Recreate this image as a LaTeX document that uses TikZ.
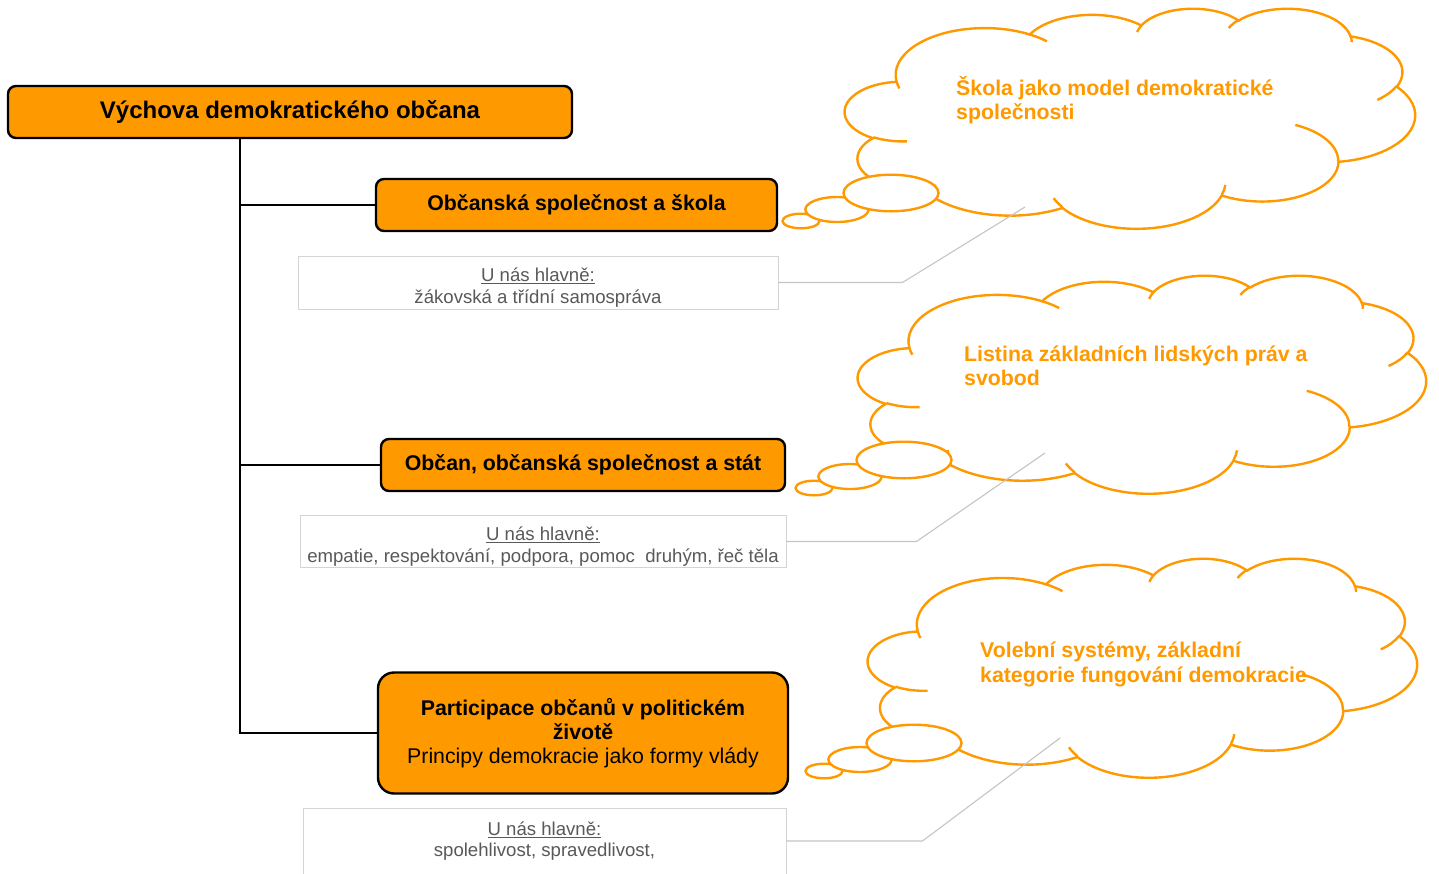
\documentclass[tikz,border=0pt]{standalone}
\usepackage{fontspec}
\setmainfont{Liberation Sans}
\definecolor{amber}{HTML}{FF9900}
\definecolor{note}{HTML}{595959}
\definecolor{rim}{HTML}{D4D4D4}
\definecolor{leadgray}{HTML}{C4C4C4}
\newcommand\lobe[4]{%
  \pgfextra{%
    \pgfmathparse{atan2((#1)*sin(#3),(#2)*cos(#3))}\xdef\cta{\pgfmathresult}%
    \pgfmathparse{atan2((#1)*sin(#3+#4),(#2)*cos(#3+#4))}\xdef\ctb{\pgfmathresult}%
    \pgfmathparse{\cta+mod(\ctb-\cta+720,360)}\xdef\ctb{\pgfmathresult}%
  }%
  arc[start angle=\cta, end angle=\ctb, x radius=#1, y radius=#2]}
\def\cloudoutline{(39,143.7)
  \lobe{67.53}{91.90}{-190.4875}{123.7805}
  \lobe{53.33}{72.67}{-144.1024}{89.9452}
  \lobe{43.65}{59.45}{-145.8079}{99.7230}
  \lobe{48.57}{65.95}{-130.9861}{117.2417}
  \lobe{53.33}{72.73}{-78.7089}{109.0269}
  \lobe{67.75}{92.20}{-46.2673}{130.2690}
  \lobe{57.85}{78.67}{0.6250}{114.0333}
  \lobe{67.52}{92.15}{22.4516}{115.1726}
  \lobe{77.20}{105.43}{66.2426}{75.7110}
  \lobe{43.60}{59.18}{-274.9421}{146.7356}
  \lobe{43.45}{59.45}{-246.8285}{152.5189} -- cycle}
\def\cloudhooks{
  (46.93,261.77) \lobe{43.45}{59.45}{86.7420}{26.4295}
  (69.28,348.99) \lobe{43.60}{59.18}{73.6105}{11.4475}
  (164.78,390.90) \lobe{67.52}{92.15}{137.6242}{14.0811}
  (288.27,347.51) \lobe{67.52}{92.15}{6.4533}{15.9984}
  (341.29,229.54) \lobe{57.85}{78.67}{-70.2924}{70.9174}
  (417.98,153.54) \lobe{53.33}{72.73}{30.3180}{27.7515}
  (383.24,54.26) \lobe{48.57}{65.95}{-13.7443}{14.8589}
  (290.78,39.52) \lobe{48.57}{65.95}{-149.1815}{18.1954}
  (221.41,47.20) \lobe{43.65}{59.45}{-163.4943}{17.6864}
  (140.00,51.92) \lobe{67.53}{91.90}{-66.7073}{12.3194}
  (41.27,157.89) \lobe{67.53}{91.90}{157.6544}{11.8582}}
\newcommand\thought[4]{%
  \begin{scope}[shift={(#1,#2)}, x=#3, y=#4]
    \draw[cloudline, fill=white] \cloudoutline;
    \draw[cloudline] \cloudhooks;
  \end{scope}
  \begin{scope}[shift={(#1,#2)}]
    \draw[cloudline, fill=white] (-44,213) ellipse[x radius=18.5, y radius=7.3];
    \draw[cloudline, fill=white] (-8,201.5) ellipse[x radius=31.6, y radius=12.5];
    \draw[cloudline, fill=white] (46,185) ellipse[x radius=47.5, y radius=18.3];
  \end{scope}}
\def\lift{\rule{0pt}{24pt}}
\tikzset{
  topic/.style={draw=black, line width=2.4pt, fill=amber, rounded corners=8pt,
    font=\fontsize{21.3}{24}\selectfont\bfseries, align=center},
  infobox/.style={draw=rim, line width=0.9pt, fill=white, text=note,
    font=\fontsize{18.6}{21.5}\selectfont, align=center, inner ysep=1.5pt},
  stem/.style={line width=2.4pt},
  lead/.style={draw=leadgray, line width=1.1pt},
  cloudline/.style={draw=amber, line width=2.4pt},
  idea/.style={text=amber, font=\fontsize{21.3}{24}\selectfont\bfseries,
    align=left, anchor=north west, inner sep=0pt}
}

\begin{document}
\begin{tikzpicture}[x=1pt, y=-1pt]
  \clip[use as bounding box] (0,0) rectangle (1439,873);

  \thought{845}{8}{1.3194pt}{-0.5093pt}
  \thought{858}{275}{1.3148pt}{-0.5046pt}
  \thought{868}{558}{1.2708pt}{-0.5069pt}

  \node[idea] (idea1) at (956,76) {Škola jako model demokratické\\společnosti};
  \node[idea] (idea2) at (964,346) {Listina základních lidských práv a\\svobod};
  \node[idea, font=\fontsize{21.3}{25}\selectfont\bfseries] (idea3) at (980,642)
    {Volební systémy, základní\\kategorie fungování demokracie};

  \node[topic, minimum width=564, minimum height=52, font=\fontsize{24}{28}\selectfont\bfseries]
    (title) at (290,112) {Výchova demokratického občana};
  \node[topic, minimum width=401, minimum height=52] (school) at (576.5,205) {Občanská společnost a škola};
  \node[topic, minimum width=404, minimum height=52] (state) at (583,465) {Občan, občanská společnost a stát};
  \node[topic, minimum width=410, minimum height=121, rounded corners=16pt] (part) at (583,733)
    {Participace občanů v politickém\\životě\\{\mdseries Principy demokracie jako formy vlády}};

  \coordinate (root) at (240,0);
  \draw[stem] (root |- title.south) -- (root |- part.west) -- (part.west);
  \draw[stem] (root |- school.west) -- (school.west);
  \draw[stem] (root |- state.west) -- (state.west);

  \node[infobox, minimum width=480, minimum height=53] (infoA) at (538,282.5)
    {\lift\underline{U nás hlavně:}\\žákovská a třídní samospráva};
  \node[infobox, minimum width=486, minimum height=51] (infoB) at (543,541.5)
    {\lift\underline{U nás hlavně:}\\empatie, respektování, podpora, pomoc\ \ druhým, řeč těla};
  \node[infobox, minimum width=483, anchor=north, inner ysep=8pt] (infoC) at (544.5,808)
    {\rule{0pt}{19pt}\underline{U nás hlavně:}\\spolehlivost, spravedlivost,\\ \mbox{}\\ \mbox{}};

  \coordinate (tipA) at (1025,207);
  \coordinate (tipB) at (1045,453);
  \coordinate (tipC) at (1060,738);
  \draw[lead] (infoA.east) -- ++(124,0) -- (tipA);
  \draw[lead] (infoB.east) -- ++(130,0) -- (tipB);
  \draw[lead] ([yshift=-33pt]infoC.north east) -- ++(136,0) -- (tipC);
\end{tikzpicture}
\end{document}
